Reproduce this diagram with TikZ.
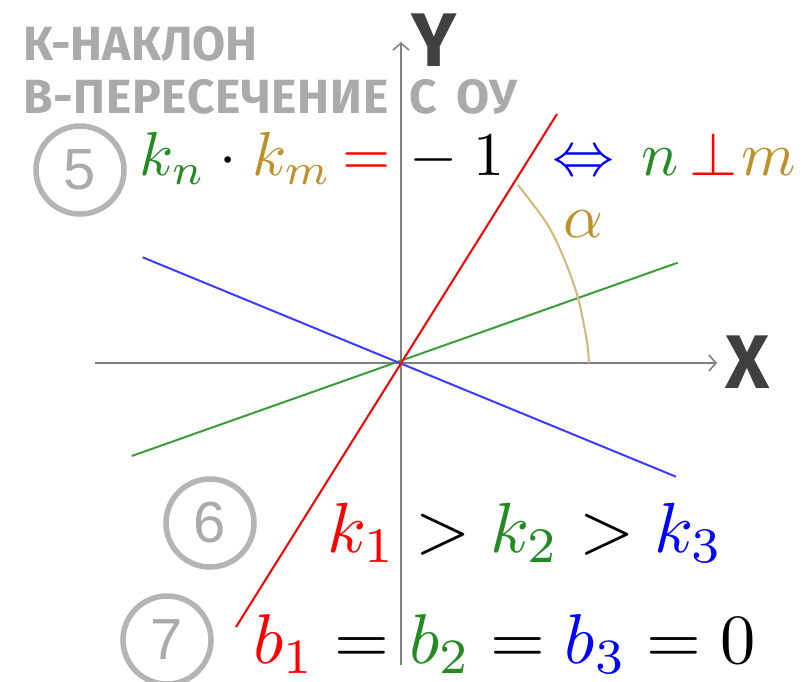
\documentclass[tikz,border=0pt]{standalone}
\usepackage{fontspec}
\usepackage{graphicx}
\usetikzlibrary{arrows.meta}
\newfontfamily\firab{Fira Sans}
\newfontfamily\digfont{Liberation Sans}
\newcommand\bigmath[1]{\scalebox{6.2}{$#1$}}
\definecolor{kgreen}{RGB}{34,139,34}
\definecolor{kgold}{RGB}{190,145,40}
\definecolor{arcgold}{RGB}{212,182,122}
\definecolor{axgray}{RGB}{128,128,128}
\definecolor{cgray}{RGB}{180,180,180}
\definecolor{tgray}{RGB}{170,170,170}
\definecolor{lblue}{RGB}{60,60,255}
\definecolor{lgreen}{RGB}{60,155,60}
\begin{document}
\begin{tikzpicture}[x=1pt,y=-1pt,
  axis/.style={draw=axgray,line width=2.4pt,-{Straight Barb[length=7pt,width=16pt,line width=1.6pt]}},
  graphline/.style={line width=2pt},
  numcircle/.style={circle,draw=cgray,line width=5.5pt,minimum size=88pt,inner sep=0pt,text=tgray,font=\digfont\fontsize{58}{58}\selectfont},
  axlabel/.style={inner sep=0pt,text=black!75,font=\firab\bfseries\fontsize{76}{76}\selectfont},
  caption/.style={anchor=base west,inner sep=0pt,text=tgray,font=\firab\bfseries\fontsize{48}{48}\selectfont},
  formula/.style={anchor=base west,inner sep=0pt},
  tok/.style={anchor=base,inner sep=0pt}]
\useasboundingbox (0,0) rectangle (806,681);
\fill[white] (0,0) rectangle (806,681);
\coordinate (O) at (401,363);
% axes
\coordinate (xl) at (95,363);
\coordinate (xr) at (717,363);
\coordinate (yb) at (401,665);
\coordinate (yt) at (401,42);
\draw[axis] (xl) -- (xr);
\draw[axis] (yb) -- (yt);
\node[axlabel] (X) at (747.5,362.5) {X};
\node[axlabel] (Y) at (434,40) {Y};
% lines
\coordinate (r1) at (236,627);
\coordinate (r2) at (557,114);
\coordinate (g1) at (131.7,456);
\coordinate (g2) at (677.7,262.7);
\coordinate (b1) at (142.7,257.3);
\coordinate (b2) at (676,476.7);
\draw[graphline,lgreen] (g1) -- (g2);
\draw[graphline,lblue] (b1) -- (b2);
\draw[graphline,red] (r1) -- (r2);
% angle arc
\draw[arcgold,line width=2pt] plot[smooth] coordinates {(589,363) (586.7,340) (577.7,296.7) (563.3,256.7) (546.7,223.3) (518,185)};
\node[tok,text=kgold] (alpha) at (583,237) {\bigmath{\alpha}};
% captions
\node[caption] (cap1) at (23,60) {К-НАКЛОН};
\node[caption] (cap2) at (23,113) {{\addfontfeature{LetterSpace=1.5}В-ПЕРЕСЕЧЕНИЕ}\hspace{10pt} С\hspace{8pt} ОУ};
% numbered circles
\node[numcircle] (c5) at (80,170) {5};
\node[numcircle] (c6) at (210,523) {6};
\node[numcircle] (c7) at (167,640) {7};
% formula 5
\node[tok,text=kgreen] (kn) at (172.5,175) {\bigmath{k_n}};
\node[tok] (dot) at (228,175) {\bigmath{\cdot}};
\node[tok,text=kgold] (km) at (292,175) {\bigmath{k_m}};
\node[tok,text=red] (eq) at (366.5,175) {\bigmath{=}};
\node[tok] (minus) at (434,175) {\bigmath{-}};
\node[tok] (one) at (488.5,175) {\bigmath{1}};
\node[tok,text=blue] (iff) at (583,175) {\bigmath{\Leftrightarrow}};
\node[tok,text=kgreen] (n) at (660.5,175) {\bigmath{n}};
\node[tok,text=red] (perp) at (714,175) {\bigmath{\perp}};
\node[tok,text=kgold] (m) at (769,175) {\bigmath{m}};
% formulas 6, 7
\node[formula] (f2) at (327,552)
  {\scalebox{7.1}{$\color{red}k_1\color{black}>\color{kgreen}k_2\color{black}>\color{blue}k_3$}};
\node[formula] (f3) at (253,663)
  {\scalebox{7.05}{$\color{red}b_1\color{black}=\color{kgreen}b_2\color{black}=\color{blue}b_3\color{black}=0$}};
\end{tikzpicture}
\end{document}
